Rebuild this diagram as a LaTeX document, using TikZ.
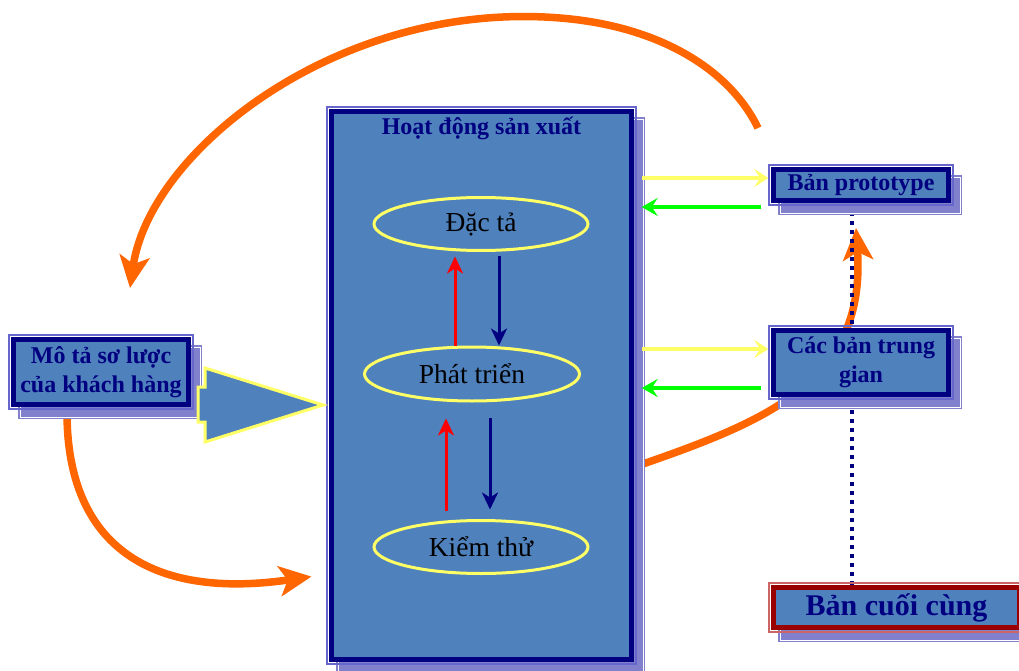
\documentclass[tikz,border=0pt]{standalone}
\usepackage{fontspec}
\setmainfont{Liberation Serif}
\usetikzlibrary{arrows.meta,shapes.geometric,backgrounds}

\definecolor{steel}{RGB}{79,129,189}
\definecolor{navy}{RGB}{0,0,128}
\definecolor{dropblue}{RGB}{128,128,204}
\definecolor{rim}{RGB}{102,102,204}
\definecolor{wine}{RGB}{153,0,0}
\definecolor{winerim}{RGB}{204,102,102}
\definecolor{pale}{RGB}{255,255,102}
\definecolor{lime}{RGB}{0,255,0}
\definecolor{orng}{RGB}{255,102,0}

\tikzset{
  panelbox/.style={rectangle, line width=4.5pt, fill=steel, inner sep=0pt,
    text=navy, align=center},
  stage/.style={ellipse, draw=pale, line width=3pt, inner sep=0pt,
    minimum width=214pt, minimum height=53pt, font=\fontsize{27.5}{30}\selectfont},
  uparr/.style={draw=red, line width=3pt, -{Stealth[length=17pt,width=16pt,inset=5pt]}},
  downarr/.style={draw=navy, line width=3pt, -{Stealth[length=17pt,width=16pt,inset=5pt]}},
  feedarr/.style={draw=pale, line width=3.5pt, -{Stealth[length=14pt,width=18pt,inset=6pt]}},
  backarr/.style={draw=lime, line width=3.5pt, -{Stealth[length=16pt,width=18pt,inset=6pt]}},
  flow/.style={draw=orng, line width=7.5pt, -{Stealth[length=32pt,width=30pt,inset=8pt]}},
  chain/.style={draw=navy, line width=4pt, dash pattern=on 4pt off 5pt},
  blockarrow/.style={fill=steel, draw=pale, line width=3pt, line join=miter}
}

% drop shadow, outer rim and framed box; #1 frame colour, #2 rim colour, #3 name,
% #4-#7 outer corners, #8 font size, #9 text
\newcommand\drawpanel[9]{%
  \fill[dropblue] (#4+9,#5+10) rectangle (#6+9,#7+10);
  \draw[white, line width=0.8pt] (#4+11,#5+12) rectangle (#6+7,#7+8);
  \draw[#2, line width=1.2pt] (#4,#5) rectangle (#6,#7);
  \node[panelbox, draw=#1, minimum width={#6-#4-9}, minimum height={#7-#5-9},
        font=\fontsize{#8}{29.5}\selectfont\bfseries]
    (#3) at ({(#4+#6)/2},{(#5+#7)/2}) {#9};
}

\begin{document}
\begin{tikzpicture}[x=1pt,y=-1pt]
\useasboundingbox (0,0) rectangle (1019,671);
\begin{scope}[on background layer]
  \fill[white] (0,0) rectangle (1019,671);
\end{scope}

% production block
\drawpanel{navy}{rim}{main}{327}{107}{636}{664}{24}{}
\node[anchor=base, text=navy, font=\fontsize{24}{29}\selectfont\bfseries]
  (title) at ([yshift=-25pt]main.north) {Hoạt động sản xuất};

\node[stage] (dt) at (481,224) {Đặc tả};
\node[stage, minimum width=215pt, minimum height=54pt] (pt) at (472,374) {Phát triển};
\node[stage] (kt) at (481,547) {Kiểm thử};

\coordinate (xa) at (455,0);
\coordinate (xb) at (499,0);
\coordinate (xc) at (446,0);
\coordinate (xd) at (490,0);
\draw[uparr, shorten >=4.5pt] (xa |- pt.north) -- (xa |- dt.south);
\draw[downarr, shorten <=3.5pt] (xb |- dt.south) -- (xb |- pt.north);
\draw[uparr, shorten <=8.5pt, shorten >=16pt] (xc |- kt.north) -- (xc |- pt.south);
\draw[downarr, shorten <=15pt, shorten >=9.5pt] (xd |- pt.south) -- (xd |- kt.north);

% customer description and its block arrow into production
\drawpanel{navy}{rim}{mota}{9}{335}{193}{409}{24}{Mô tả sơ lược\\của khách hàng}
\draw[blockarrow] (198,387) -- (205,387) -- (205,368) -- (323,405)
  -- (205,442) -- (205,422) -- (198,422) -- cycle;

% outputs
\drawpanel{navy}{rim}{proto}{769}{165}{953}{205}{24}{Bản prototype}
\drawpanel{navy}{rim}{cac}{769}{326}{953}{399}{24}{Các bản trung\\gian}
\drawpanel{wine}{winerim}{cuoi}{769}{583}{1024}{632}{30}{Bản cuối cùng}

% exchanges between production and outputs
\coordinate (ya) at ([yshift=7pt]proto.west);
\coordinate (yb) at ([yshift=-22pt]proto.west);
\coordinate (yc) at ([yshift=13.5pt]cac.west);
\coordinate (yd) at ([yshift=-25.5pt]cac.west);
\draw[feedarr, shorten <=8pt, shorten >=3pt] (ya -| main.east) -- (ya);
\draw[backarr, shorten <=10pt, shorten >=8pt] (yb) -- (yb -| main.east);
\draw[feedarr, shorten <=8pt, shorten >=3pt] (yc -| main.east) -- (yc);
\draw[backarr, shorten <=10pt, shorten >=8pt] (yd) -- (yd -| main.east);

% feedback loops and the release chain, behind the boxes
\coordinate (f1s) at (758,128);
\coordinate (f1e) at (130,288);
\coordinate (f2s) at (67,415);
\coordinate (f2e) at (main.west |- 0,574);
\coordinate (f3s) at (640,465);
\coordinate (f3e) at (856,228);
\coordinate (d1) at ([xshift=-9pt]proto.south);
\coordinate (d2) at (d1 |- cuoi.north);
\begin{scope}[on background layer]
  \draw[flow] (f1s) .. controls (730,70) and (660,26) .. (560,18)
    .. controls (340,0) and (150,150) .. (f1e);
  \draw[flow, shorten >=18pt] (f2s) .. controls (68,545) and (150,600) .. (f2e);
  \draw[flow] (f3s) .. controls (770,420) and (866,380) .. (f3e);
  \draw[chain] (d1) -- (d2);
\end{scope}
\end{tikzpicture}
\end{document}
